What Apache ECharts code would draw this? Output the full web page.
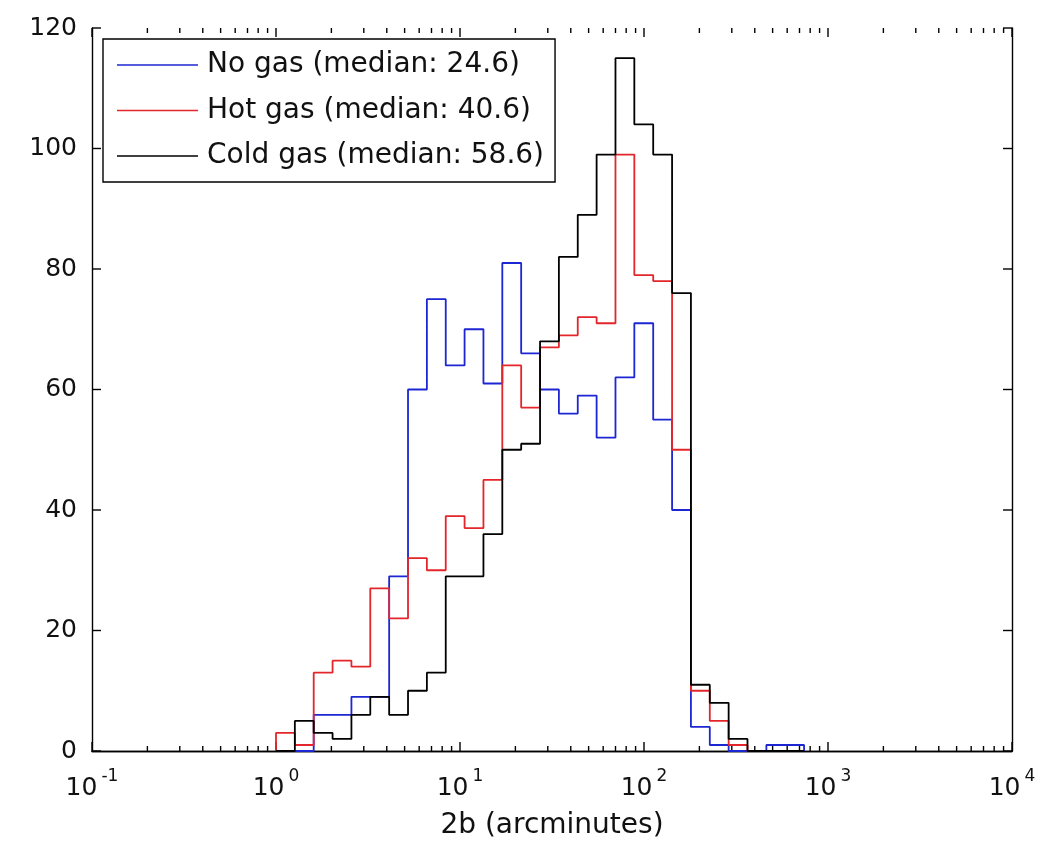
<!DOCTYPE html>
<html>
<head>
<meta charset="utf-8">
<script src="https://cdn.jsdelivr.net/npm/echarts@6/dist/echarts.min.js"></script>
<style>
html,body{margin:0;padding:0;background:#fff;}
#chart{width:1045px;height:845px;}
</style>
</head>
<body>
<div id="chart"></div>
<script>
// Bin edges (arcminutes), log-spaced
const binEdges = [1.000, 1.266, 1.603, 2.030, 2.570, 3.254, 4.121, 5.218, 6.607, 8.366,
  10.59, 13.41, 16.98, 21.50, 27.23, 34.47, 43.65, 55.27, 69.98, 88.61,
  112.2, 142.1, 179.9, 227.8, 288.4, 365.1, 462.4, 585.5, 741.3];
// Counts per bin
const noGas   = [0, 0, 6, 6, 9, 9, 29, 60, 75, 64, 70, 61, 81, 66, 60, 56, 59, 52, 62, 71, 55, 40, 4, 1, 0, 0, 1, 1];
const hotGas  = [3, 1, 13, 15, 14, 27, 22, 32, 30, 39, 37, 45, 64, 57, 67, 69, 72, 71, 99, 79, 78, 50, 10, 5, 1, 0, 0, 0];
const coldGas = [0, 5, 3, 2, 6, 9, 6, 10, 13, 29, 29, 36, 50, 51, 68, 82, 89, 99, 115, 104, 99, 76, 11, 8, 2, 0, 0, 0];
const seriesNames = ['No gas (median: 24.6)', 'Hot gas (median: 40.6)', 'Cold gas (median: 58.6)'];
const seriesColors = ['#1c26d2', '#e3262b', '#000000'];
const xTicks = [0.1, 1, 10, 100, 1000, 10000];
const yTicks = [0, 20, 40, 60, 80, 100, 120];

const FONT = '"DejaVu Sans", "Liberation Sans", Arial, sans-serif';
const X_MIN = 0.1, X_MAX = 10000, Y_MIN = 0, Y_MAX = 120;

function steps(vals) {
  const pts = [[binEdges[0], 0]];
  for (let i = 0; i < vals.length; i++) {
    pts.push([binEdges[i], vals[i]]);
    pts.push([binEdges[i + 1], vals[i]]);
  }
  pts.push([binEdges[vals.length], 0]);
  return pts;
}

// log tick marks: majors (len 9) and minors 2..9 x 10^k (len 5)
const xTickMarks = [];
for (let k = 0; k < xTicks.length; k++) {
  xTickMarks.push([xTicks[k], 9]);
  if (k < xTicks.length - 1) {
    for (let m = 2; m <= 9; m++) xTickMarks.push([m * xTicks[k], 5]);
  }
}
const yTickMarks = yTicks.map(function (v) { return [v, 9]; });

const chart = echarts.init(document.getElementById('chart'), null, {renderer: 'canvas'});

const AX = {color: '#000', width: 1.4};
const tickStyle = {stroke: '#000', lineWidth: 1.4};

const option = {
  backgroundColor: '#fff',
  animation: false,
  grid: {left: 92, right: 33, top: 28, bottom: 92, containLabel: false},
  legend: {
    orient: 'vertical',
    left: 103, top: 39,
    data: seriesNames,
    icon: 'rect',
    itemWidth: 81, itemHeight: 1.5, itemGap: 17.5,
    padding: [12, 11, 12, 14],
    borderColor: '#000', borderWidth: 1.4,
    backgroundColor: '#fff',
    textStyle: {fontFamily: FONT, fontSize: 28, color: '#111', lineHeight: 28, padding: [0, 0, 0, 4]},
    selectedMode: false
  },
  xAxis: [{
    type: 'log', logBase: 10, min: X_MIN, max: X_MAX,
    position: 'bottom',
    axisLine: {show: true, lineStyle: AX},
    axisTick: {show: false},
    splitLine: {show: false},
    axisLabel: {
      margin: 17,
      formatter: function (v) {
        const e = Math.round(Math.log10(v));
        return '{b|10}{s|' + e + '}';
      },
      rich: {
        b: {fontFamily: FONT, fontSize: 25, color: '#111'},
        s: {fontFamily: FONT, fontSize: 17, color: '#111', padding: [0, 0, 24, 4]}
      }
    },
    name: '2b (arcminutes)',
    nameLocation: 'middle',
    nameGap: 61,
    nameTextStyle: {fontFamily: FONT, fontSize: 28, color: '#111'}
  }, {
    type: 'log', logBase: 10, min: X_MIN, max: X_MAX,
    position: 'top',
    axisLine: {show: true, lineStyle: AX},
    axisTick: {show: false},
    axisLabel: {show: false},
    splitLine: {show: false}
  }],
  yAxis: [{
    type: 'value', min: Y_MIN, max: Y_MAX, interval: 20,
    position: 'left',
    axisLine: {show: true, lineStyle: AX},
    axisTick: {show: false},
    splitLine: {show: false},
    axisLabel: {margin: 15, fontFamily: FONT, fontSize: 25, color: '#111'}
  }, {
    type: 'value', min: Y_MIN, max: Y_MAX, interval: 20,
    position: 'right',
    axisLine: {show: true, lineStyle: AX},
    axisTick: {show: false},
    splitLine: {show: false},
    axisLabel: {show: false}
  }],
  series: [
    {
      name: 'xTickMarks', type: 'custom', xAxisIndex: 0, yAxisIndex: 0,
      silent: true, clip: false, z: 1,
      data: xTickMarks,
      renderItem: function (params, api) {
        const x = api.value(0), len = api.value(1);
        const pb = api.coord([x, Y_MIN]);
        const pt = api.coord([x, Y_MAX]);
        return {
          type: 'group',
          children: [
            {type: 'line', shape: {x1: pb[0], y1: pb[1], x2: pb[0], y2: pb[1] - len}, style: tickStyle},
            {type: 'line', shape: {x1: pt[0], y1: pt[1], x2: pt[0], y2: pt[1] + len}, style: tickStyle}
          ]
        };
      }
    },
    {
      name: 'yTickMarks', type: 'custom', xAxisIndex: 0, yAxisIndex: 0,
      silent: true, clip: false, z: 1,
      data: yTickMarks.map(function (d) { return [X_MIN, d[0], d[1]]; }),
      renderItem: function (params, api) {
        const y = api.value(1), len = api.value(2);
        const pl = api.coord([X_MIN, y]);
        const pr = api.coord([X_MAX, y]);
        return {
          type: 'group',
          children: [
            {type: 'line', shape: {x1: pl[0], y1: pl[1], x2: pl[0] + len, y2: pl[1]}, style: tickStyle},
            {type: 'line', shape: {x1: pr[0], y1: pr[1], x2: pr[0] - len, y2: pr[1]}, style: tickStyle}
          ]
        };
      }
    }
  ].concat([noGas, hotGas, coldGas].map(function (vals, i) {
    return {
      name: seriesNames[i], type: 'line', xAxisIndex: 0, yAxisIndex: 0,
      data: steps(vals),
      symbol: 'none', showSymbol: false,
      lineStyle: {color: seriesColors[i], width: 1.8},
      itemStyle: {color: seriesColors[i]},
      z: 3 + i
    };
  }))
};

chart.setOption(option);
</script>
</body>
</html>
